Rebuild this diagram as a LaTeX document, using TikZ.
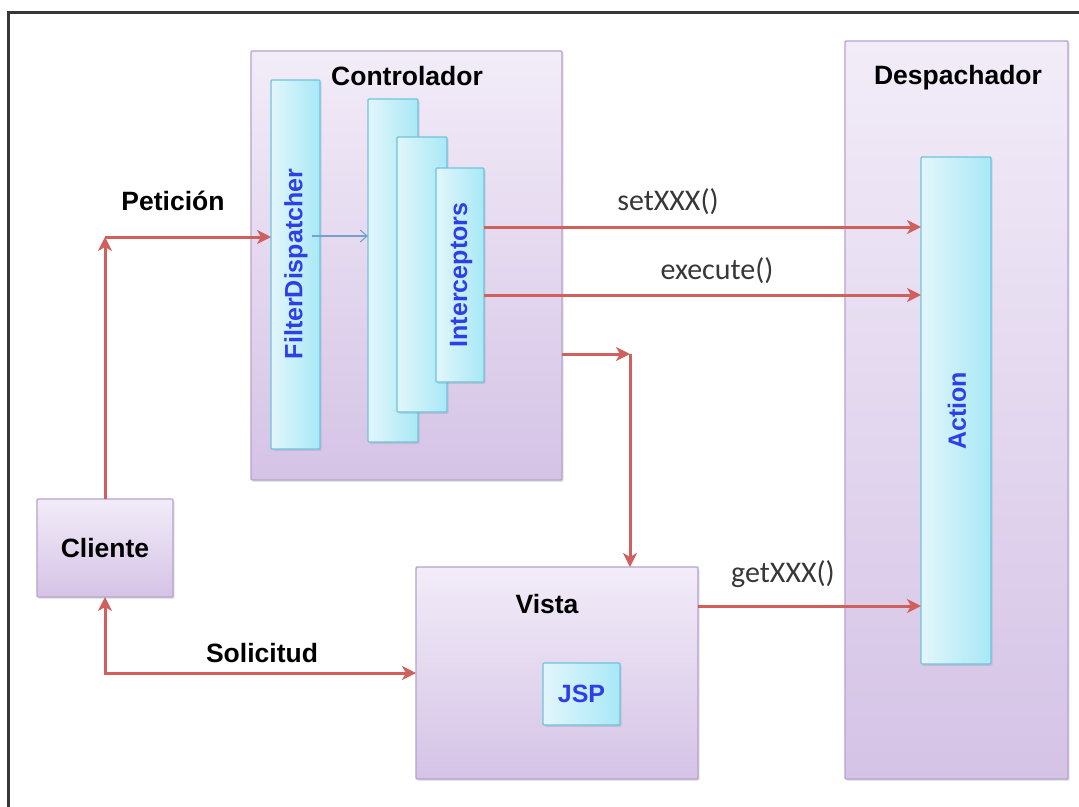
\documentclass[tikz,border=0pt]{standalone}
\usepackage{fontspec}
\setmainfont{Liberation Sans}
\newfontfamily\calib{Carlito}
\usetikzlibrary{arrows.meta,shadows,calc}

\definecolor{frameline}{RGB}{55,55,55}
\definecolor{boxtop}{RGB}{242,236,248}
\definecolor{boxbot}{RGB}{213,195,230}
\definecolor{boxline}{RGB}{182,162,206}
\definecolor{cyanlt}{RGB}{226,246,251}
\definecolor{cyandk}{RGB}{168,232,246}
\definecolor{cyanline}{RGB}{110,196,220}
\definecolor{flow}{RGB}{208,96,92}
\definecolor{inner}{RGB}{120,160,205}
\definecolor{bluetext}{RGB}{48,62,232}
\definecolor{methodtext}{RGB}{55,55,55}

\tikzset{
  x=1pt, y=-1pt,
  layer/.style={draw=boxline, line width=1.4pt, top color=boxtop, bottom color=boxbot,
    inner sep=0pt, outer sep=0pt, rounded corners=1pt,
    drop shadow={opacity=0.22, shadow xshift=1.6pt, shadow yshift=-1.8pt}},
  part/.style={draw=cyanline, line width=1.2pt, left color=cyanlt, right color=cyandk,
    inner sep=0pt, outer sep=0pt, rounded corners=1pt,
    drop shadow={opacity=0.22, shadow xshift=1.6pt, shadow yshift=-1.8pt}},
  title/.style={font=\fontsize{26.5}{30}\selectfont\bfseries, text=black},
  parttext/.style={font=\fontsize{25}{28}\selectfont\bfseries, text=bluetext},
  method/.style={font=\calib\fontsize{30}{34}\selectfont, text=methodtext},
  flowline/.style={draw=flow, line width=3pt},
  flowarrow/.style={flowline, -{Stealth[length=14pt,width=14pt,inset=4pt]}},
  innerarrow/.style={draw=inner, line width=1.1pt, -{Straight Barb[length=7pt,width=12pt]}},
}

\begin{document}
\begin{tikzpicture}
\useasboundingbox (0,0) rectangle (1079,806);
\clip (0,0) rectangle (1079,806);

% outer frame
\draw[frameline, line width=3pt] (8,12) rectangle (1095,822);

% main layers
\node[layer, minimum width=311pt, minimum height=429pt] (ctrl) at (406.5,265.5) {};
\node[layer, minimum width=223pt, minimum height=738pt] (desp) at (956.5,410) {};
\node[layer, minimum width=136pt, minimum height=98pt]  (cliente) at (105,548) {};
\node[layer, minimum width=282pt, minimum height=212pt] (vista) at (557,673) {};

% titles
\node[title] (ctrlT) at (407,76) {Controlador};
\node[title] (despT) at (958,78) {Despachador};
\node[title] at (cliente.center) (clienteT) {Cliente};
\node[title] (vistaT) at (547,604) {Vista};

% controller parts
\node[part, minimum width=49pt, minimum height=369pt] (fd) at (295.5,264.5) {};
\node[part, minimum width=50pt, minimum height=343pt] (ic1) at (393,270.5) {};
\node[part, minimum width=50pt, minimum height=275pt] (ic2) at (422,274.5) {};
\node[part, minimum width=48pt, minimum height=214pt] (ic3) at (460,275) {};
\node[parttext, rotate=90] (fdT) at (296,264) {FilterDispatcher};
\node[parttext, rotate=90] (ic3T) at (461,275) {Interceptors};

% dispatcher and view parts
\node[part, minimum width=70pt, minimum height=507pt] (action) at (956,410.5) {};
\node[parttext, rotate=90] (actionT) at (957,411) {Action};
\node[part, minimum width=77pt, minimum height=62pt] (jsp) at (581.5,694) {};
\node[parttext] (jspT) at (jsp.center) {JSP};

% request from the client
\coordinate (pc) at (105,237);
\draw[flowarrow] (cliente.north) -- (pc);
\draw[flowarrow] (pc) -- (pc -| fd.west);
\node[title] (petT) at (173,201) {Petición};

% filter to interceptors
\coordinate (fdOut) at (312,236);
\draw[innerarrow] (fdOut) -- (fdOut -| ic1.west);

% calls on the action
\coordinate (setY) at (0,227);
\coordinate (execY) at (0,295);
\coordinate (getY) at (0,606);
\draw[flowarrow] (setY -| ic3.east) -- (setY -| action.west);
\draw[flowarrow] (execY -| ic3.east) -- (execY -| action.west);
\draw[flowarrow] (getY -| vista.east) -- (getY -| action.west);
\node[method] (setT) at (668,202) {setXXX()};
\node[method] (execT) at (717,271) {execute()};
\node[method] (getT) at (783,574) {getXXX()};

% controller to view
\coordinate (cv) at (630,354);
\draw[flowarrow] (cv -| ctrl.east) -- (cv);
\draw[flowarrow] (cv) -- (cv |- vista.north);

% response to the client
\draw[flowline, {Stealth[length=14pt,width=14pt,inset=4pt]}-{Stealth[length=14pt,width=14pt,inset=4pt]}]
  (cliente.south) |- (vista.west);
\node[title] (solT) at (262,653) {Solicitud};
\end{tikzpicture}
\end{document}
